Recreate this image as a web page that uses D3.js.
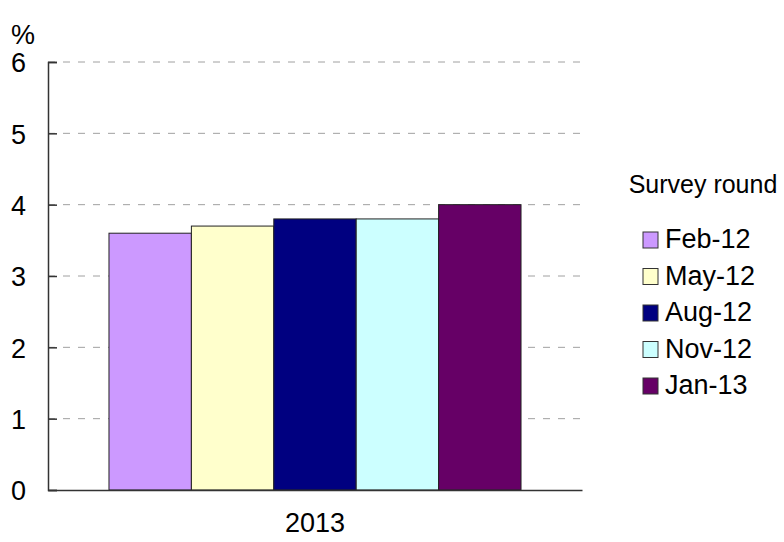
<!DOCTYPE html>
<html>
<head>
<meta charset="utf-8">
<script src="https://cdn.jsdelivr.net/npm/d3@7"></script>
<style>
  body { margin: 0; background: #fff; }
  svg { display: block; font-family: Arial, "Liberation Sans", sans-serif; }
</style>
</head>
<body>
<svg id="chart" width="784" height="542"></svg>
<script>
const categories = ["2013"];
const seriesNames = ["Feb-12", "May-12", "Aug-12", "Nov-12", "Jan-13"];
const seriesValues = [3.6, 3.7, 3.8, 3.8, 4.0];
const seriesColors = ["#cc99ff", "#ffffcc", "#000080", "#ccffff", "#660066"];
const yTicks = [0, 1, 2, 3, 4, 5, 6];

const svg = d3.select("#chart");
const m = { left: 48, right: 582, top: 62, bottom: 490 };

const x0 = d3.scaleBand().domain(categories).range([m.left, m.right]).paddingInner(0).paddingOuter(0.148);
const x1 = d3.scaleBand().domain(seriesNames).range([0, x0.bandwidth()]).padding(0);
const y = d3.scaleLinear().domain([0, 6]).range([m.bottom, m.top]);

// gridlines
svg.append("g")
  .selectAll("line")
  .data(yTicks.filter(t => t > 0))
  .join("line")
  .attr("x1", m.left).attr("x2", m.right - 2)
  .attr("y1", d => y(d)).attr("y2", d => y(d))
  .attr("stroke", "#a0a0a0").attr("stroke-width", 1)
  .attr("stroke-dasharray", "7,8");

// bars
const data = seriesNames.map((s, i) => ({ cat: categories[0], name: s, value: seriesValues[i], color: seriesColors[i] }));
svg.append("g")
  .selectAll("rect")
  .data(data)
  .join("rect")
  .attr("x", d => x0(d.cat) + x1(d.name))
  .attr("y", d => y(d.value))
  .attr("width", x1.bandwidth())
  .attr("height", d => y(0) - y(d.value))
  .attr("fill", d => d.color)
  .attr("stroke", "#222").attr("stroke-width", 1);

// y axis
const yAxis = d3.axisLeft(y).tickValues(yTicks).tickSize(-9).tickPadding(14).tickFormat(d3.format("d"));
const gy = svg.append("g").attr("transform", `translate(${m.left},0)`).call(yAxis);
gy.select(".domain").attr("stroke", "#333").attr("stroke-width", 1.5);
gy.selectAll(".tick line").attr("stroke", "#333").attr("stroke-width", 1.5);
gy.selectAll(".tick text").attr("font-size", 27).attr("fill", "#000")
  .attr("x", -22).attr("text-anchor", "end").attr("dy", "0.36em");

// x axis
const xAxis = d3.axisBottom(x0).tickSize(0);
const gx = svg.append("g").attr("transform", `translate(0,${m.bottom})`).call(xAxis);
gx.select(".domain").attr("stroke", "#333").attr("stroke-width", 1.5);
gx.selectAll(".tick text").attr("font-size", 27).attr("fill", "#000").attr("y", 42).attr("dy", 0);

// % label
svg.append("text").attr("x", 11).attr("y", 44).attr("font-size", 27).text("%");

// legend
svg.append("text").attr("x", 703).attr("y", 193).attr("text-anchor", "middle")
  .attr("font-size", 25).text("Survey round");
const lg = svg.append("g").selectAll("g").data(data).join("g")
  .attr("transform", (d, i) => `translate(643,${248 + i * 36.5})`);
lg.append("rect").attr("x", 0).attr("y", -16).attr("width", 15).attr("height", 16)
  .attr("fill", d => d.color).attr("stroke", "#333").attr("stroke-width", 1);
lg.append("text").attr("x", 22).attr("y", 0)
  .attr("font-size", 27).text(d => d.name);
</script>
</body>
</html>
